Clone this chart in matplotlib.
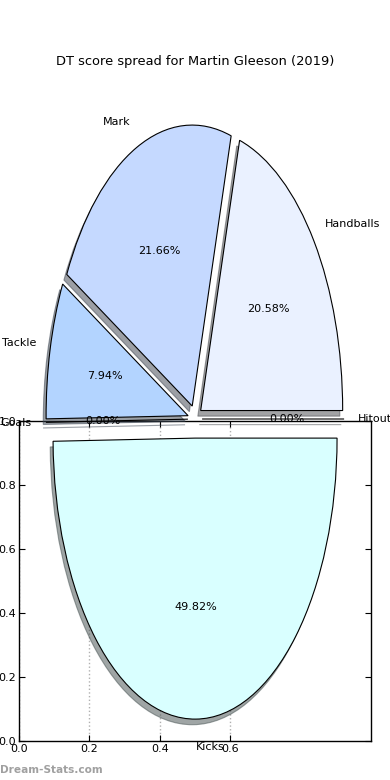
import matplotlib
matplotlib.use('Agg')
import matplotlib.pyplot as plt

labels = ['Hitout', 'Handballs', 'Mark', 'Tackle', 'Goals', 'Kicks']
scores = [0.0, 20.58, 21.66, 7.94, 0.0, 49.82]
explode = [0.05, 0.05, 0.05, 0.05, 0.05, 0.068]
colours = ['#eef3ff', '#eaf1ff', '#c5d9ff', '#b3d4ff', '#b3d4ff', '#d9ffff']

x_ticks = [0.0, 0.2, 0.4, 0.6]
y_ticks = [0.0, 0.2, 0.4, 0.6, 0.8, 1.0]

title = 'DT score spread for Martin Gleeson (2019)'

W, H = 390, 780
fig = plt.figure(figsize=(W / 100, H / 100), dpi=100)

# empty axes left underneath the pie
ax = fig.add_axes([19 / W, 39 / H, 352 / W, 320 / H])
ax.set_xlim(0, 1)
ax.set_ylim(0, 1)
ax.set_xticks(x_ticks)
ax.set_yticks(y_ticks)
ax.tick_params(direction='in', length=4, width=0.8, labelsize=8, pad=2,
               top=True, right=True)
ax.xaxis.grid(True, linestyle=':', color='#b0b0b0', linewidth=1)
for s in ax.spines.values():
    s.set_linewidth(1)

# pie on top, stretched to the figure (no equal aspect)
# shadow offsets get scaled by dpi/72 in new matplotlib, undo that
sh = -0.02 * 72 / 100
pax = fig.add_axes([0, 0, 1, 1])
pax.patch.set_alpha(0)
pax.pie(scores, explode=explode, labels=labels, colors=colours,
        autopct='%1.2f%%', shadow=dict(ox=sh, oy=sh), startangle=0,
        wedgeprops=dict(edgecolor='black', linewidth=0.8),
        textprops=dict(fontsize=8))
pax.set_aspect('auto')
cx, cy, rx, ry = 195, H - 419, 142, 281
pax.set_xlim(-cx / rx, (W - cx) / rx)
pax.set_ylim(-cy / ry, (H - cy) / ry)
pax.axis('off')

fig.text(0.5, 1 - 61 / H, title, ha='center', va='center', fontsize=9.4)
fig.text(0.0, 1 - 770 / H, 'Dream-Stats.com', ha='left', va='center',
         fontsize=7.6, fontweight='bold', color='#a0a0a0')

fig.savefig('out.png', dpi=100)
